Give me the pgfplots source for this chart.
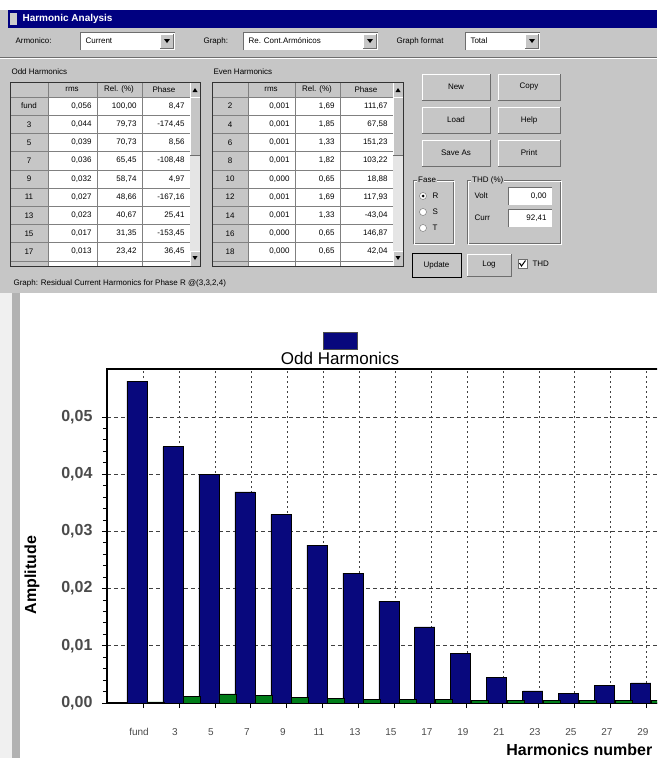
\documentclass[border=0pt]{standalone}
\usepackage{pgfplots}
\pgfplotsset{compat=1.18}
\usepackage{fontspec}
\setmainfont{Liberation Sans}
\definecolor{guigray}{RGB}{198,198,198}
\definecolor{guidark}{RGB}{110,110,110}
\definecolor{winblue}{RGB}{0,0,128}
\definecolor{barblue}{RGB}{8,8,125}
\definecolor{bargreen}{RGB}{0,125,25}
\definecolor{ticklabel}{RGB}{75,75,75}
\newcommand\guifont{\fontsize{8}{9}\selectfont}
% raised button: x1 y1 x2 y2 text
\newcommand\btn[5]{%
  \fill[guigray] (#1,#2) rectangle (#3,#4);
  \draw[white] (#1,#4) -- (#1,#2) -- (#3,#2);
  \draw[guidark] (#1,#4) -- (#3,#4) -- (#3,#2);
  \node[font=\guifont] at ({(#1+#3)/2},{(#2+#4)/2}) {#5};}
% combo box: x1 x2 text
\newcommand\combo[3]{%
  \fill[white] (#1,32) rectangle (#2,50);
  \draw[guidark] (#1,50) -- (#1,32) -- (#2,32);
  \btn{#2-15}{34}{#2-2}{48}{}
  \fill[black] (#2-11,39) -- (#2-5,39) -- (#2-8,43) -- cycle;
  \node[font=\guifont, anchor=west] at (#1+2,41) {#3};}

\begin{document}
\begin{tikzpicture}
\useasboundingbox (0,0) rectangle (657pt,-758pt);
\clip (0,0) rectangle (657pt,-758pt);
\begin{scope}[x=1pt,y=-1pt]
  \fill[white] (0,0) rectangle (657,758);
  \fill[guigray] (0,10) rectangle (657,293);
  % title bar
  \fill[winblue] (8,10) rectangle (657,28);
  \fill[gray!40] (10,13) rectangle (17,25);
  \node[anchor=west, text=white, font=\fontsize{10}{10}\selectfont\bfseries] at (19,19) {Harmonic Analysis};
  % combos
  \node[anchor=west, font=\guifont] at (12,41) {Armonico:};
  \combo{80}{175}{Current}
  \node[anchor=west, font=\guifont] at (200,41) {Graph:};
  \combo{243}{378}{Re. Cont.Armónicos}
  \node[anchor=west, font=\guifont] at (393,41) {Graph format};
  \combo{465}{540}{Total}
  \draw[guidark] (0,57) -- (657,57);
  \draw[white] (0,58) -- (657,58);
  \node[anchor=west, font=\guifont] at (8,72) {Odd Harmonics};
  \node[anchor=west, font=\guifont] at (210,72) {Even Harmonics};
  % odd table
  \fill[white] (10,82) rectangle (190,266);
  \fill[guigray] (10,82) rectangle (190,97);
  \fill[guigray] (10,97) rectangle (48,266);
  \foreach \k in {0,...,9} \draw[gray] (10,{97+18.2*\k}) -- (190,{97+18.2*\k});
  \foreach \xx in {48,97,142} \draw[gray] (\xx,82) -- (\xx,266);
  \node[font=\guifont] at (72,89.5) {rms};
  \node[font=\guifont] at (119,89.5) {Rel. (\%)};
  \node[font=\guifont] at (164,89.5) {Phase};
  \foreach \h/\a/\b/\c [count=\i from 0] in {
    fund/{0,056}/{100,00}/{8,47},
    3/{0,044}/{79,73}/{-174,45},
    5/{0,039}/{70,73}/{8,56},
    7/{0,036}/{65,45}/{-108,48},
    9/{0,032}/{58,74}/{4,97},
    11/{0,027}/{48,66}/{-167,16},
    13/{0,023}/{40,67}/{25,41},
    15/{0,017}/{31,35}/{-153,45},
    17/{0,013}/{23,42}/{36,45}}
  {
    \pgfmathsetmacro\yc{106.1+18.2*\i}
    \node[font=\guifont] at (29,\yc) {\h};
    \node[font=\guifont, anchor=east] at (95,\yc) {\a};
    \node[font=\guifont, anchor=east] at (140,\yc) {\b};
    \node[font=\guifont, anchor=east] at (188,\yc) {\c};
  }
  \fill[gray!20] (190,82) rectangle (200,266);
  \btn{190}{82}{200}{97}{}
  \fill[black] (192.5,92) -- (197.5,92) -- (195,88) -- cycle;
  \btn{190}{97}{200}{155}{}
  \btn{190}{251}{200}{266}{}
  \fill[black] (192.5,256) -- (197.5,256) -- (195,260) -- cycle;
  \draw[black!80, line width=1pt] (10,82) rectangle (200,266);
  % even table
  \fill[white] (212,82) rectangle (393,266);
  \fill[guigray] (212,82) rectangle (393,97);
  \fill[guigray] (212,97) rectangle (248,266);
  \foreach \k in {0,...,9} \draw[gray] (212,{97+18.2*\k}) -- (393,{97+18.2*\k});
  \foreach \xx in {248,295,340} \draw[gray] (\xx,82) -- (\xx,266);
  \node[font=\guifont] at (271,89.5) {rms};
  \node[font=\guifont] at (317,89.5) {Rel. (\%)};
  \node[font=\guifont] at (366,89.5) {Phase};
  \foreach \h/\a/\b/\c [count=\i from 0] in {
    2/{0,001}/{1,69}/{111,67},
    4/{0,001}/{1,85}/{67,58},
    6/{0,001}/{1,33}/{151,23},
    8/{0,001}/{1,82}/{103,22},
    10/{0,000}/{0,65}/{18,88},
    12/{0,001}/{1,69}/{117,93},
    14/{0,001}/{1,33}/{-43,04},
    16/{0,000}/{0,65}/{146,87},
    18/{0,000}/{0,65}/{42,04}}
  {
    \pgfmathsetmacro\yc{106.1+18.2*\i}
    \node[font=\guifont] at (230,\yc) {\h};
    \node[font=\guifont, anchor=east] at (293,\yc) {\a};
    \node[font=\guifont, anchor=east] at (338,\yc) {\b};
    \node[font=\guifont, anchor=east] at (391,\yc) {\c};
  }
  \fill[gray!20] (393,82) rectangle (403,266);
  \btn{393}{82}{403}{97}{}
  \fill[black] (395.5,92) -- (400.5,92) -- (398,88) -- cycle;
  \btn{393}{97}{403}{155}{}
  \btn{393}{251}{403}{266}{}
  \fill[black] (395.5,256) -- (400.5,256) -- (398,260) -- cycle;
  \draw[black!80, line width=1pt] (212,82) rectangle (403,266);
  % buttons
  \btn{422}{74}{490}{100}{New}
  \btn{498}{74}{560}{100}{Copy}
  \btn{422}{107}{490}{133}{Load}
  \btn{498}{107}{560}{133}{Help}
  \btn{422}{140}{490}{166}{Save As}
  \btn{498}{140}{560}{166}{Print}
  % phase group
  \draw[guidark] (413,180) rectangle (453,243);
  \draw[white] (414,181) rectangle (454,244);
  \node[anchor=west, fill=guigray, inner sep=1pt, font=\guifont] at (417,180) {Fase};
  \foreach \yy/\t in {196/R, 212/S, 228/T} {
    \fill[white] (423,\yy) circle (3.5);
    \draw[guidark] (423,\yy) circle (3.5);
    \node[anchor=west, font=\guifont] at (429,\yy) {\t};
  }
  \fill[black] (423,196) circle (1.5);
  % THD group
  \draw[guidark] (467,180) rectangle (560,243);
  \draw[white] (468,181) rectangle (561,244);
  \node[anchor=west, fill=guigray, inner sep=1pt, font=\guifont] at (471,180) {THD (\%)};
  \node[anchor=west, font=\guifont] at (471,196) {Volt};
  \fill[white] (508,187) rectangle (552,205);
  \draw[guidark] (508,205) -- (508,187) -- (552,187);
  \node[anchor=east, font=\guifont] at (550,196) {0,00};
  \node[anchor=west, font=\guifont] at (471,218) {Curr};
  \fill[white] (508,209) rectangle (552,227);
  \draw[guidark] (508,227) -- (508,209) -- (552,209);
  \node[anchor=east, font=\guifont] at (550,218) {92,41};
  % bottom buttons
  \btn{412}{253}{461}{277}{Update}
  \draw[black, line width=1pt] (412,253) rectangle (461,277);
  \btn{467}{254}{511}{276}{Log}
  \fill[white] (518,259) rectangle (527,268);
  \draw[guidark] (518,259) rectangle (527,268);
  \draw[black, line width=1pt] (519.5,263) -- (521.5,266) -- (525.5,260.5);
  \node[anchor=west, font=\guifont] at (529,263.5) {THD};
  \node[anchor=west, font=\guifont] at (10,283) {Graph: Residual Current Harmonics for Phase R @(3,3,2,4)};
  % chart panel
  \fill[white] (20,293) rectangle (657,758);
  \fill[gray!12] (0,293) rectangle (12,758);
  \fill[gray!60] (12,293) rectangle (20,758);
  % legend and title
  \fill[barblue] (323,332) rectangle (357,349);
  \draw[black!70] (323,332) rectangle (357,349);
  \node[anchor=base, font=\fontsize{17}{17}\selectfont] at (340,364) {Odd Harmonics};
\end{scope}
\begin{axis}[
  at={(107pt,-703pt)}, anchor=south west,
  scale only axis, width=565pt, height=334pt,
  xmin=-1, xmax=14.7, ymin=0, ymax=0.0584,
  axis line style={black, line width=1.6pt},
  tick pos=left, tick align=outside,
  major tick length=5pt, minor tick length=4pt,
  every tick/.style={black, line width=0.9pt},
  xtick={0,...,14},
  xticklabels={fund,3,5,7,9,11,13,15,17,19,21,23,25,27,29},
  ytick={0,0.01,0.02,0.03,0.04,0.05},
  minor y tick num=4,
  scaled y ticks=false,
  yticklabel style={/pgf/number format/fixed, /pgf/number format/fixed zerofill,
    /pgf/number format/precision=2, /pgf/number format/use comma,
    /pgf/number format/assume math mode=true,
    font=\fontsize{16}{16}\selectfont\bfseries, text=ticklabel, xshift=-6pt},
  xticklabel style={font=\fontsize{10}{10}\selectfont, text=ticklabel, xshift=-4pt, yshift=-17pt},
  xmajorgrids, ymajorgrids,
  major x grid style={black!75, dash pattern=on 2pt off 3pt, line width=0.7pt},
  major y grid style={black!75, dash pattern=on 4pt off 3pt, line width=0.7pt},
  xlabel={Harmonics number}, ylabel={Amplitude},
  every axis x label/.style={at={(axis description cs:0.836,-0.1407)}, anchor=center, font=\fontsize{16}{16}\selectfont\bfseries},
  every axis y label/.style={at={(axis description cs:-0.1327,0.383)}, rotate=90, anchor=center, font=\fontsize{16}{16}\selectfont\bfseries},
]
% odd harmonics
\addplot[ybar, bar width=20pt, bar shift=-6pt, fill=barblue, draw=black, line width=0.8pt] coordinates {
  (0,0.0563) (1,0.0448) (2,0.0400) (3,0.0369) (4,0.0330) (5,0.0276) (6,0.0227) (7,0.0178)
  (8,0.0133) (9,0.0087) (10,0.0045) (11,0.0021) (12,0.0016) (13,0.0030) (14,0.0035)
};
% even harmonics
\addplot[ybar, bar width=17pt, bar shift=12.5pt, fill=bargreen, draw=black, line width=0.6pt] coordinates {
  (0,0.0002) (1,0.0012) (2,0.0016) (3,0.0013) (4,0.0010) (5,0.0008) (6,0.0007) (7,0.0007)
  (8,0.0006) (9,0.0005) (10,0.0004) (11,0.0004) (12,0.0004) (13,0.0004) (14,0.0004)
};
\end{axis}
\end{tikzpicture}
\end{document}
